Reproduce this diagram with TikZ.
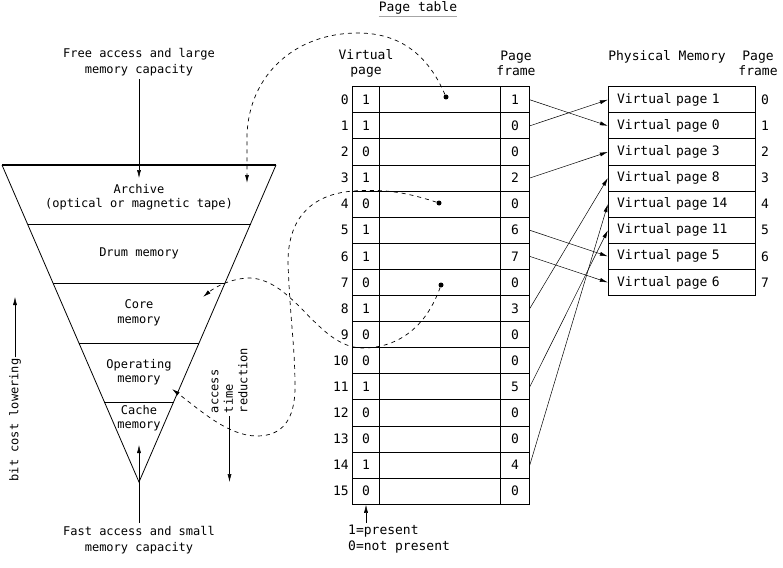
\documentclass[tikz,border=0pt]{standalone}
\usepackage{fontspec}
\setmonofont{DejaVu Sans Mono}
\usetikzlibrary{arrows.meta}
\begin{document}
\begin{tikzpicture}[x=1pt,y=-1pt,
  every node/.style={font=\ttfamily\fontsize{12}{14.5}\selectfont},
  big/.style={font=\ttfamily\fontsize{13}{15}\selectfont},
  cell/.style={draw, line width=0.9pt, minimum height=26.1pt, inner sep=0pt, big},
  pline/.style={line width=0.8pt},
  tip/.style={-{Latex[length=8pt,width=4pt]}},
  link/.style={tip, line width=0.5pt},
  dsh/.style={tip, line width=0.7pt, dash pattern=on 4pt off 4pt},
  dot/.style={circle, fill=black, inner sep=0pt, minimum size=5pt}]
\useasboundingbox (0,0) rectangle (783,567);
\fill[white] (0,0) rectangle (783,567);

% ---------- pyramid ----------
\coordinate (pA) at (2,165);
\coordinate (pB) at (276,165);
\coordinate (pC) at (139,482);
\draw[pline] (pA) -- (pC) -- (pB);
\draw[line width=1.3pt] (pA) -- (pB);
\draw[pline] (27.5,224) -- (250.5,224);
\draw[pline] (53.2,283.5) -- (224.8,283.5);
\draw[pline] (78.9,343) -- (199.1,343);
\draw[pline] (104.4,402) -- (173.6,402);

\node[align=center] (arch) at (139,197) {Archive\\(optical or magnetic tape)};
\node (drum) at (139,253.5) {Drum memory};
\node[align=center] (core) at (139,313) {Core\\memory};
\node[align=center] (oper) at (139,372) {Operating\\memory};
\node[align=center] (cache) at (139,418) {Cache\\memory};

\node[align=center, font=\ttfamily\fontsize{12}{15.5}\selectfont] (free) at (139,62) {Free access and large\\memory capacity};
\coordinate (freeEnd) at (139,178);
\draw[link] (free.south) -- (freeEnd);

\node[align=center, font=\ttfamily\fontsize{12}{15.5}\selectfont] (fast) at (139,540) {Fast access and small\\memory capacity};
\coordinate (fastEnd) at (139,445);
\draw[link] (fast.north) -- (fastEnd);

\node[rotate=90, inner sep=1pt] (bc) at (15,420) {bit cost lowering};
\coordinate (bcEnd) at (15,297);
\draw[link] (bc.east) -- (bcEnd);

\node[rotate=90, align=left, inner sep=3pt, font=\ttfamily\fontsize{12}{14.5}\selectfont] (atr) at (229.5,380.5) {access\\time\\reduction};
\coordinate (atrEnd) at (229.5,482);
\draw[link] (atr.west) -- (atrEnd);

% ---------- page table ----------
\node[big, inner sep=0pt] (ptitle) at (418,8) {Page table};
\draw[gray!70, line width=1pt] ([yshift=-2pt]ptitle.south west) -- ([yshift=-2pt]ptitle.south east);

\node[big, align=center] (hvp) at (366,63.5) {Virtual\\page};
\node[big, align=center] (hpf) at (516,63.5) {Page\\frame};
\node[big] (hpm) at (667,56.5) {Physical Memory};
\node[big, align=center] (hpf2) at (758,63.5) {Page\\frame};

\foreach \b/\f [count=\i from 0] in {1/1,1/0,0/0,1/2,0/0,1/6,1/7,0/0,1/3,0/0,0/0,1/5,0/0,0/0,1/4,0/0} {
  \pgfmathsetmacro\yy{99.75+26.1*\i}
  \node[cell, minimum width=26.6pt] (b\i) at (366,\yy) {\b};
  \node[cell, minimum width=121.4pt] (m\i) at (440,\yy) {};
  \node[cell, minimum width=28.6pt] (f\i) at (515,\yy) {\f};
  \node[big, anchor=east, inner sep=0pt] (r\i) at (349,\yy) {\i};
}

\node[big, align=left, anchor=north west, inner sep=0pt, font=\ttfamily\fontsize{13}{16}\selectfont] (legend) at (348,525) {1=present\\0=not present};
\draw[link] ([xshift=366pt-348pt]legend.north west) ++(0,-2) coordinate (legTop) (legTop) -- (b15.south);

% ---------- physical memory ----------
\foreach \v [count=\j from 0] in {1,0,3,8,14,11,5,6} {
  \pgfmathsetmacro\yy{99.75+26.1*\j}
  \node[cell, text width=129.3pt, inner xsep=8.7pt, align=left] (p\j) at (681.65,\yy) {Virtual page \v};
  \node[big, inner sep=0pt] (q\j) at (765,\yy) {\j};
}

% ---------- mapping arrows ----------
\foreach \s/\t in {0/1,1/0,3/2,5/6,6/7,8/3,11/5,14/4} {
  \draw[link] (f\s.east) -- (p\t.west);
}

% ---------- dots and dashed curves ----------
\node[dot] (d0) at (446,97) {};
\node[dot] (d4) at (439,203) {};
\node[dot] (d7) at (441,285) {};
\coordinate (archIn) at (247,183);
\coordinate (operIn) at (172,389);
\coordinate (coreIn) at (203,297);

\draw[dsh] (d0) .. controls (428,55) and (400,33) .. (358,33)
  .. controls (295,33) and (249,75) .. (247,135) -- (archIn);
\draw[dsh] (d4) .. controls (405,192) and (385,189) .. (353,191)
  .. controls (305,195) and (288,225) .. (288,262)
  .. controls (290,320) and (295,345) .. (295,387)
  .. controls (295,420) and (282,436) .. (257,436)
  .. controls (228,436) and (200,410) .. (operIn);
\draw[dsh] (d7) .. controls (425,330) and (395,348) .. (363,348)
  .. controls (318,348) and (295,280) .. (250,278)
  .. controls (232,278) and (215,287) .. (coreIn);
\end{tikzpicture}
\end{document}
